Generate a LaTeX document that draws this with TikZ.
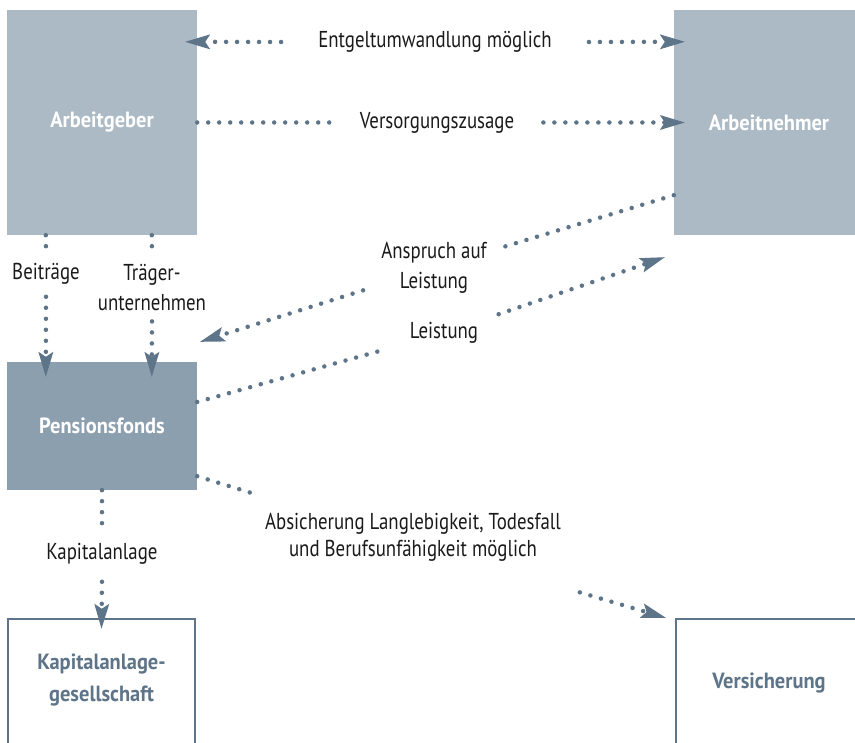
\documentclass[tikz,border=0pt]{standalone}
\usepackage{fontspec}
\setmainfont{PT Sans}[FakeStretch=0.82]
\newfontfamily\bfam{PT Sans}[FakeStretch=0.93]
\usetikzlibrary{arrows.meta,calc}
\definecolor{dotc}{HTML}{5E7488}
\definecolor{boxl}{HTML}{ACBAC5}
\definecolor{boxd}{HTML}{8C9FAF}
\definecolor{txt}{HTML}{1A1A1A}
\begin{document}
\begin{tikzpicture}[x=1pt,y=-1pt,
  dl/.style={draw=dotc,line width=4.5pt,line cap=round,dash pattern=on 0pt off 11pt},
  ar/.style={-{Stealth[length=25pt,width=15pt,inset=5pt,line width=0pt]}},
  lbl/.style={font=\fontsize{23}{30}\selectfont, text=txt, inner sep=0pt, align=center},
  boxfill/.style={inner sep=0pt, font=\bfam\fontsize{22}{30}\selectfont\bfseries, text=white},
  boxline/.style={draw=dotc, line width=2.5pt, inner sep=0pt},
  boxtext/.style={font=\bfam\fontsize{22}{32}\selectfont\bfseries, text=dotc, align=center}]
\useasboundingbox (0,0) rectangle (855,743);
\clip (0,0) rectangle (855,743);
% boxes
\node[boxfill, fill=boxl, minimum width=190pt, minimum height=225pt] (ag) at (102,122.5) {Arbeitgeber};
\node[boxfill, fill=boxl, minimum width=190pt, minimum height=225pt] (an) at (769,122.5) {Arbeitnehmer};
\node[boxfill, fill=boxd, minimum width=190pt, minimum height=128pt] (pf) at (102,426) {Pensionsfonds};
\node[boxline, minimum width=187pt, minimum height=160pt] (kg) at (101.5,699) {};
\node[boxline, minimum width=190pt, minimum height=160pt] (vs) at (771,699) {};
\node[boxtext] (kgt) at ($(kg.north)+(0,62)$) {Kapitalanlage-\\gesellschaft};
\node[boxtext] (vst) at ($(vs.north)+(-2,65)$) {Versicherung};
% labels
\node[lbl, inner xsep=37pt, inner ysep=4pt] (l1) at (435,42) {Entgeltumwandlung möglich};
\node[lbl, inner xsep=29pt, inner ysep=4pt] (l2) at (437,122.5) {Versorgungszusage};
\node[lbl, inner ysep=12pt] (l3) at (46,274) {Beiträge};
\node[lbl, inner ysep=10pt] (l4) at (152,288) {Träger-\\unternehmen};
\node[lbl, inner xsep=18pt, inner ysep=4pt] (l5) at (434,268) {Anspruch auf\\Leistung};
\node[lbl, inner xsep=23pt, inner ysep=8pt] (l6) at (444,333) {Leistung};
\node[lbl, font=\fontsize{23}{27}\selectfont, inner xsep=25pt, inner ysep=19pt, text depth=17pt] (l7) at (413,543) {Absicherung Langlebigkeit, Todesfall\\und Berufsunfähigkeit möglich};
\node[lbl, inner ysep=17pt] (l8) at (102,554) {Kapitalanlage};
% connectors
\draw[dl,ar] (l1.west) -- ($(ag.north east)+(-12,32)$);
\draw[dl,ar] (l1.east) -- ($(an.north west)+(11,32)$);
\draw[dl] (ag.east) -- (l2.west);
\draw[dl,ar] (l2.east) -- ($(an.west)+(11,0)$);
\draw[dl] ($(ag.south west)+(39,0)$) -- (l3.north);
\draw[dl,ar] (l3.south) -- ($(pf.north west)+(39,15)$);
\draw[dl] ($(ag.south west)+(145,0)$) -- (l4.north);
\draw[dl,ar] (l4.south) -- ($(pf.north west)+(145,15)$);
\draw[dl] ($(an.south west)+(0,-40)$) -- (l5);
\draw[dl,ar] (l5) -- ($(pf.north east)+(3,-20)$);
\draw[dl] ($(pf.east)+(0,-24)$) -- (l6);
\draw[dl,ar] (l6) -- ($(an.south west)+(-9,22)$);
\draw[dl] ($(pf.south east)+(0,-14)$) -- (l7);
\draw[dl,ar] (l7) -- ($(vs.north west)+(-9,0)$);
\draw[dl] (pf.south) -- (l8.north);
\draw[dl,ar] (l8.south) -- ($(kg.north)+(0,11)$);
\end{tikzpicture}
\end{document}
